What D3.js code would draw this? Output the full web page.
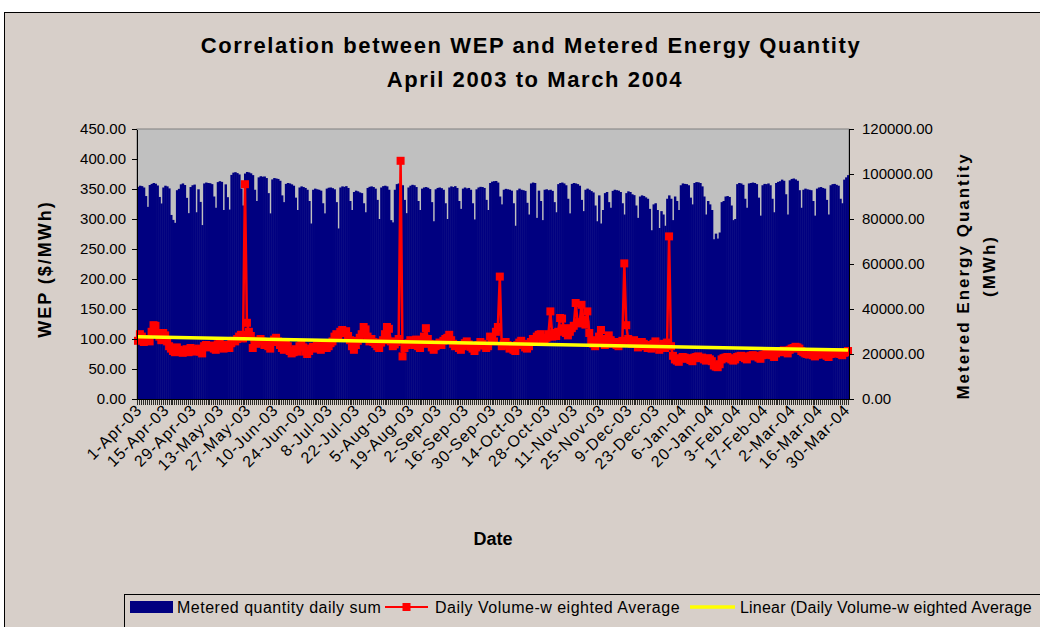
<!DOCTYPE html>
<html>
<head>
<meta charset="utf-8">
<script src="https://cdn.jsdelivr.net/npm/d3@7"></script>
<style>
body { margin: 0; background: #fff; }
svg { display: block; font-family: "Liberation Sans", Arial, sans-serif; }
.axis path, .axis line { stroke: #000; shape-rendering: crispEdges; }
.axis text { font-size: 15px; fill: #000; }
</style>
</head>
<body>
<script>
var w = 1040;
var h = 627;
var plotLeft = 137, plotRight = 849, plotTop = 129, plotBottom = 399;

// Metered quantity daily sum (MWh), one array per month
var apr03Mwh = [94300,94800,94600,94000,90200,85400,95100,95600,96000,95700,94900,89800,86900,94000,94800,94500,93600,81800,79600,78300,92800,93400,95400,95800,95100,89400,82600,94200,95000,95300];
var may03Mwh = [83000,93200,87600,77300,95800,96200,96000,95900,95500,90000,85000,96400,96800,96500,84000,95400,89700,84200,99600,100600,100800,100400,99800,93500,86000,100200,100900,100700,100300,99500,93000];
var jun03Mwh = [88000,98500,99000,98800,98900,98200,91500,82500,97600,98200,98000,97800,97000,90500,87500,95600,96000,95800,95400,94800,89500,84000,94000,94500,94200,93800,93000,88000,78000,93000];
var jul03Mwh = [93500,93200,93000,92600,87000,82500,93500,93900,94000,93700,93200,87500,75800,94000,94500,94300,94600,93800,88000,84000,92000,92600,92300,91800,91500,87000,83000,93800,94300,94500,94200];
var aug03Mwh = [93500,88500,80000,94000,94600,94800,94500,93000,79500,78500,93000,95500,95800,95600,95000,88500,82600,94000,94800,95200,95000,94200,88000,84000,93500,94000,94200,93900,93300,87500,79000];
var sep03Mwh = [93200,93800,94000,93700,93000,87000,80000,94000,94500,94200,94600,93800,88000,84500,93500,94000,93600,93800,93000,87000,79800,93200,94000,94300,94200,93800,88500,84000,96000,96600];
var oct03Mwh = [96800,96900,96200,90000,86500,93000,93400,93200,93000,92600,87000,77000,92800,93500,93000,92800,92500,87200,82000,95800,96200,96000,80500,92600,88000,79500,93000,93200,92800,93000,92500];
var nov03Mwh = [87500,83000,95500,96000,96200,95800,95000,89000,82500,95600,96000,95800,95500,94800,88500,83500,93000,93500,93000,92400,91800,86000,79000,90500,78000,84000,91500,92000,87500,85000];
var dec03Mwh = [92500,93000,92800,92600,92000,87000,82000,91500,92300,92000,91000,90600,86000,80500,90000,90500,90200,89600,89000,84500,75000,86500,87000,84000,76000,83500,82000,77000,89000,90500,89000];
var jan04Mwh = [79500,90000,88000,84000,95000,95800,95600,95500,95000,89500,86500,96000,96400,96300,96000,94500,90000,82000,88000,86500,84000,71000,73500,71300,74000,87500,88000,90000,90200,89800,86000];
var feb04Mwh = [79500,80000,95500,96000,95800,95200,89000,85000,95800,96000,96200,96000,95500,89500,81500,95000,95600,95500,95800,95000,89000,83000,96000,96500,96800,97500,97000,91000,82000];
var mar04Mwh = [97200,97800,98000,97600,97000,92800,85000,93000,93500,93200,93000,92800,88000,81500,93500,94000,94200,93800,93500,88500,82000,95000,95500,95600,95200,94800,89000,87000,97500,98500,99500];

// Daily volume-weighted average WEP ($/MWh), one array per month
var apr03Wep = [97,108,104,95,99,100,96,112,123,122,110,104,98,110,106,96,88,84,80,78,86,82,79,77,80,83,78,85,82,79];
var may03Wep = [81,84,79,76,88,90,87,86,89,84,82,91,93,88,84,90,86,85,93,97,96,100,104,107,101,358,127,112,105,85,97];
var jun03Wep = [92,97,100,96,90,93,88,84,95,99,102,96,90,85,82,92,88,80,76,78,83,79,88,91,86,79,75,80,84,87];
var jul03Wep = [86,89,84,82,87,90,85,88,93,96,104,108,106,112,115,110,113,105,98,88,82,90,97,102,108,120,116,104,96,100,95];
var aug03Wep = [92,88,85,94,98,108,120,117,96,88,91,95,100,397,71,85,90,93,98,95,90,99,88,85,92,104,118,100,92,86,82];
var sep03Wep = [88,91,94,90,97,100,102,107,98,92,88,90,85,82,88,93,96,91,87,84,80,86,90,95,92,89,85,88,104,98];
var oct03Wep = [96,112,120,204,88,92,95,90,84,88,82,80,90,94,97,92,86,84,88,95,100,98,104,107,108,100,96,102,108,146,104];
var nov03Wep = [110,105,112,135,134,118,110,106,112,118,122,160,128,126,157,132,124,146,110,98,92,88,95,104,115,96,90,100,106,98];
var dec03Wep = [92,95,90,88,94,97,226,123,100,96,92,98,93,86,90,95,92,88,85,90,84,92,96,88,82,86,92,85,94,271,88];
var jan04Wep = [72,66,64,62,68,70,69,67,68,65,63,69,70,71,68,69,66,64,68,66,63,56,54,53,58,66,68,69,70,68,66];
var feb04Wep = [64,66,70,71,72,70,68,66,71,72,73,72,71,69,67,73,74,75,74,76,73,70,76,78,79,80,81,78,76];
var mar04Wep = [82,84,85,87,86,84,80,78,76,75,74,76,73,71,74,75,76,74,75,72,70,75,76,77,76,78,75,73,77,78,80];

var dateLabels = ["1-Apr-03","15-Apr-03","29-Apr-03","13-May-03","27-May-03","10-Jun-03","24-Jun-03","8-Jul-03","22-Jul-03","5-Aug-03","19-Aug-03","2-Sep-03","16-Sep-03","30-Sep-03","14-Oct-03","28-Oct-03","11-Nov-03","25-Nov-03","9-Dec-03","23-Dec-03","6-Jan-04","20-Jan-04","3-Feb-04","17-Feb-04","2-Mar-04","16-Mar-04","30-Mar-04"];
var labelStep = 14;

var metered = [].concat(apr03Mwh, may03Mwh, jun03Mwh, jul03Mwh, aug03Mwh, sep03Mwh, oct03Mwh, nov03Mwh, dec03Mwh, jan04Mwh, feb04Mwh, mar04Mwh);
var wep = [].concat(apr03Wep, may03Wep, jun03Wep, jul03Wep, aug03Wep, sep03Wep, oct03Wep, nov03Wep, dec03Wep, jan04Wep, feb04Wep, mar04Wep);
var dates = d3.timeDay.range(new Date(2003, 3, 1), new Date(2004, 3, 1));

var xScale = d3.scaleBand()
               .domain(d3.range(dates.length))
               .range([plotLeft, plotRight])
               .padding(0);
var bw = xScale.bandwidth();

var yLeft = d3.scaleLinear().domain([0, 450]).range([plotBottom, plotTop]);
var yRight = d3.scaleLinear().domain([0, 120000]).range([plotBottom, plotTop]);

// linear trend of the WEP series (least squares)
var n = wep.length;
var mx = d3.mean(d3.range(n)), my = d3.mean(wep);
var sxy = 0, sxx = 0;
wep.forEach(function(v, i) { sxy += (i - mx) * (v - my); sxx += (i - mx) * (i - mx); });
var slope = sxy / sxx, icpt = my - slope * mx;
var trend = [0, n - 1].map(function(i) { return {i: i, v: icpt + slope * i}; });

var svg = d3.select("body").append("svg").attr("width", w).attr("height", h);

svg.append("rect").attr("width", w).attr("height", h).attr("fill", "#fff");
svg.append("rect")
   .attr("x", 4.5).attr("y", 12.5)
   .attr("width", w + 10).attr("height", h)
   .attr("fill", "#D7CFC9").attr("stroke", "#000");

// Title
svg.append("text").attr("x", 531).attr("y", 53).attr("text-anchor", "middle")
   .attr("font-size", 22).attr("font-weight", "bold").attr("letter-spacing", 1.6)
   .text("Correlation between WEP and Metered Energy Quantity");
svg.append("text").attr("x", 535).attr("y", 87).attr("text-anchor", "middle")
   .attr("font-size", 22).attr("font-weight", "bold").attr("letter-spacing", 1.6)
   .text("April 2003 to March 2004");

// Plot area
svg.append("rect")
   .attr("x", plotLeft).attr("y", plotTop)
   .attr("width", plotRight - plotLeft).attr("height", plotBottom - plotTop)
   .attr("fill", "#C0C0C0").attr("stroke", "#808080");

// Bars
svg.selectAll(".bar")
   .data(metered)
   .enter()
   .append("rect")
   .attr("class", "bar")
   .attr("x", function(d, i) { return xScale(i); })
   .attr("width", bw + 0.5)
   .attr("y", function(d) { return yRight(d); })
   .attr("height", function(d) { return plotBottom - yRight(d); })
   .attr("fill", "#000080");

// WEP line
var line = d3.line()
             .x(function(d, i) { return xScale(i) + bw / 2; })
             .y(function(d) { return yLeft(d); });

svg.append("path")
   .datum(wep)
   .attr("d", line)
   .attr("fill", "none")
   .attr("stroke", "#FF0000")
   .attr("stroke-width", 2.5);

svg.selectAll(".marker")
   .data(wep)
   .enter()
   .append("rect")
   .attr("class", "marker")
   .attr("x", function(d, i) { return xScale(i) + bw / 2 - 4; })
   .attr("y", function(d) { return yLeft(d) - 4; })
   .attr("width", 8).attr("height", 8)
   .attr("fill", "#FF0000");

// Trend line
svg.append("path")
   .datum(trend)
   .attr("d", d3.line()
               .x(function(d) { return xScale(d.i) + bw / 2; })
               .y(function(d) { return yLeft(d.v); }))
   .attr("stroke", "#FFFF00")
   .attr("stroke-width", 3.5);

// Axes
svg.append("g")
   .attr("class", "axis")
   .attr("transform", "translate(" + plotLeft + ",0)")
   .call(d3.axisLeft(yLeft).tickValues(d3.range(0, 451, 50)).tickFormat(d3.format(".2f")).tickSize(5).tickPadding(6).tickSizeOuter(0));

svg.append("g")
   .attr("class", "axis")
   .attr("transform", "translate(" + plotRight + ",0)")
   .call(d3.axisRight(yRight).tickValues(d3.range(0, 120001, 20000)).tickFormat(d3.format(".2f")).tickSize(5).tickPadding(8).tickSizeOuter(0));

svg.append("g")
   .attr("class", "axis")
   .attr("transform", "translate(0," + plotBottom + ")")
   .call(d3.axisBottom(xScale).tickFormat("").tickSize(6).tickSizeOuter(0))
   .selectAll("line").attr("stroke-width", 0.8);

svg.append("g")
   .selectAll("text")
   .data(dateLabels)
   .enter()
   .append("text")
   .attr("transform", function(d, k) {
     var xc = xScale(k * labelStep) + bw / 2 + 5;
     return "translate(" + xc + ",411) rotate(-45)";
   })
   .attr("text-anchor", "end")
   .attr("font-size", 16)
   .attr("letter-spacing", 1)
   .text(function(d) { return d; });

// Axis titles
svg.append("text")
   .attr("transform", "translate(51,269) rotate(-90)")
   .attr("text-anchor", "middle").attr("font-size", 18).attr("font-weight", "bold")
   .attr("letter-spacing", 2)
   .text("WEP ($/MWh)");

svg.append("text")
   .attr("transform", "translate(969,276) rotate(-90)")
   .attr("text-anchor", "middle").attr("font-size", 17).attr("font-weight", "bold")
   .attr("letter-spacing", 2)
   .text("Metered Energy Quantity");
svg.append("text")
   .attr("transform", "translate(995,266) rotate(-90)")
   .attr("text-anchor", "middle").attr("font-size", 17).attr("font-weight", "bold")
   .attr("letter-spacing", 2)
   .text("(MWh)");

svg.append("text")
   .attr("x", 493).attr("y", 545).attr("text-anchor", "middle")
   .attr("font-size", 18).attr("font-weight", "bold")
   .text("Date");

// Legend
var lg = svg.append("g");
lg.append("rect").attr("x", 124.5).attr("y", 594.5).attr("width", w).attr("height", 60)
  .attr("fill", "#D7CFC9").attr("stroke", "#000");
lg.append("rect").attr("x", 130).attr("y", 601).attr("width", 43).attr("height", 12).attr("fill", "#000080");
lg.append("text").attr("x", 177).attr("y", 613).attr("font-size", 16).attr("letter-spacing", 0.5).text("Metered quantity daily sum");
lg.append("line").attr("x1", 385).attr("x2", 428).attr("y1", 607).attr("y2", 607)
  .attr("stroke", "#FF0000").attr("stroke-width", 2);
lg.append("rect").attr("x", 402.5).attr("y", 603).attr("width", 8).attr("height", 8).attr("fill", "#FF0000");
lg.append("text").attr("x", 435).attr("y", 613).attr("font-size", 16).attr("letter-spacing", 0.5).text("Daily Volume-w eighted Average");
lg.append("line").attr("x1", 690).attr("x2", 735).attr("y1", 607).attr("y2", 607)
  .attr("stroke", "#FFFF00").attr("stroke-width", 3.5);
lg.append("text").attr("x", 740).attr("y", 613).attr("font-size", 16).attr("letter-spacing", 0.2).text("Linear (Daily Volume-w eighted Average");
</script>
</body>
</html>
